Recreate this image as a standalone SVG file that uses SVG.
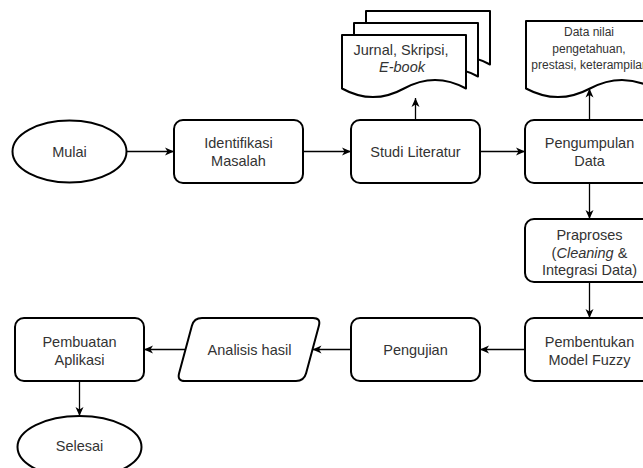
<svg xmlns="http://www.w3.org/2000/svg" width="643" height="468" viewBox="0 0 643 468">
<style>
.s{fill:#fff;stroke:#000;stroke-width:2;stroke-linejoin:round}
.t{font-family:"Liberation Sans",Arial,sans-serif;font-size:14.5px;fill:#333;text-anchor:middle}
.sm{font-size:12px}
.c{fill:none;stroke:#000;stroke-width:1.3;marker-end:url(#ah)}
</style>
<defs>
<marker id="ah" markerUnits="userSpaceOnUse" markerWidth="10" markerHeight="9" refX="9" refY="4" orient="auto" overflow="visible">
<path d="M0,0 L9,4 L0,8 L2.5,4 Z" fill="#000"/>
</marker>
</defs>
<rect width="643" height="468" fill="#fff"/>
<g id="connectors">
<path class="c" d="M126.5,151.5 H174"/>
<path class="c" d="M303,151.5 H351"/>
<path class="c" d="M480,151.5 H525"/>
<path class="c" d="M415.5,120 V98"/>
<path class="c" d="M589.5,120 V88.5"/>
<path class="c" d="M589.5,183 V219"/>
<path class="c" d="M589.5,282 V318"/>
<path class="c" d="M525,349.5 H480"/>
<path class="c" d="M351,349.5 H312.5"/>
<path class="c" d="M185.5,349.5 H144"/>
<path class="c" d="M79.5,381 V416"/>
</g>
<g id="mulai">
<ellipse class="s" cx="69.5" cy="151.5" rx="57" ry="31"/>
<text class="t" x="69.5" y="156.5">Mulai</text>
</g>
<g id="identifikasi">
<rect class="s" x="174" y="120" width="129" height="63" rx="9"/>
<text class="t" x="238.5" y="148">Identifikasi</text>
<text class="t" x="238.5" y="166">Masalah</text>
</g>
<g id="studi">
<rect class="s" x="351" y="120" width="129" height="63" rx="9"/>
<text class="t" x="415.5" y="156.5">Studi Literatur</text>
</g>
<g id="jurnal">
<path class="s" d="M366,11 H490 V64.5 Q459,47.4 428,64.5 Q397,81.6 366,64.5 Z"/>
<path class="s" d="M354,23 H478 V76.5 Q447,59.4 416,76.5 Q385,93.6 354,76.5 Z"/>
<path class="s" d="M342,35 H466 V88.5 Q435,71.4 404,88.5 Q373,105.6 342,88.5 Z"/>
<text class="t" x="401" y="55">Jurnal, Skripsi,</text>
<text class="t" x="402" y="72" font-style="italic">E-book</text>
</g>
<g id="pengumpulan">
<rect class="s" x="525" y="120" width="129" height="63" rx="9"/>
<text class="t" x="589.5" y="148">Pengumpulan</text>
<text class="t" x="589.5" y="166">Data</text>
</g>
<g id="datanilai">
<path class="s" d="M526,21 H654 V88.5 Q622,71.4 590,88.5 Q558,105.6 526,88.5 Z"/>
<text class="t sm" x="589" y="36">Data nilai</text>
<text class="t sm" x="589" y="52.5">pengetahuan,</text>
<text class="t sm" x="590" y="69">prestasi, keterampilan</text>
</g>
<g id="praproses">
<rect class="s" x="525" y="219" width="129" height="63" rx="9"/>
<text class="t" x="589.5" y="240">Praproses</text>
<text class="t" x="589.5" y="257.5">(<tspan font-style="italic">Cleaning</tspan> &amp;</text>
<text class="t" x="589.5" y="275">Integrasi Data)</text>
</g>
<g id="pembentukan">
<rect class="s" x="525" y="318" width="129" height="63" rx="9"/>
<text class="t" x="589.5" y="346.5">Pembentukan</text>
<text class="t" x="589.5" y="364.5">Model Fuzzy</text>
</g>
<g id="pengujian">
<rect class="s" x="351" y="318" width="129" height="63" rx="9"/>
<text class="t" x="415.5" y="354.5">Pengujian</text>
</g>
<g id="analisis">
<path class="s" d="M202,318 L313,318 Q321,318 318.9,325.7 L306.1,373.3 Q304,381 296,381 L185,381 Q177,381 179.1,373.3 L191.9,325.7 Q194,318 202,318 Z"/>
<text class="t" x="249.5" y="354.5">Analisis hasil</text>
</g>
<g id="pembuatan">
<rect class="s" x="15" y="318" width="129" height="63" rx="9"/>
<text class="t" x="79.5" y="346.5">Pembuatan</text>
<text class="t" x="79.5" y="364.5">Aplikasi</text>
</g>
<g id="selesai">
<ellipse class="s" cx="79.5" cy="447" rx="62" ry="31"/>
<text class="t" x="79.5" y="450.5">Selesai</text>
</g>
</svg>
